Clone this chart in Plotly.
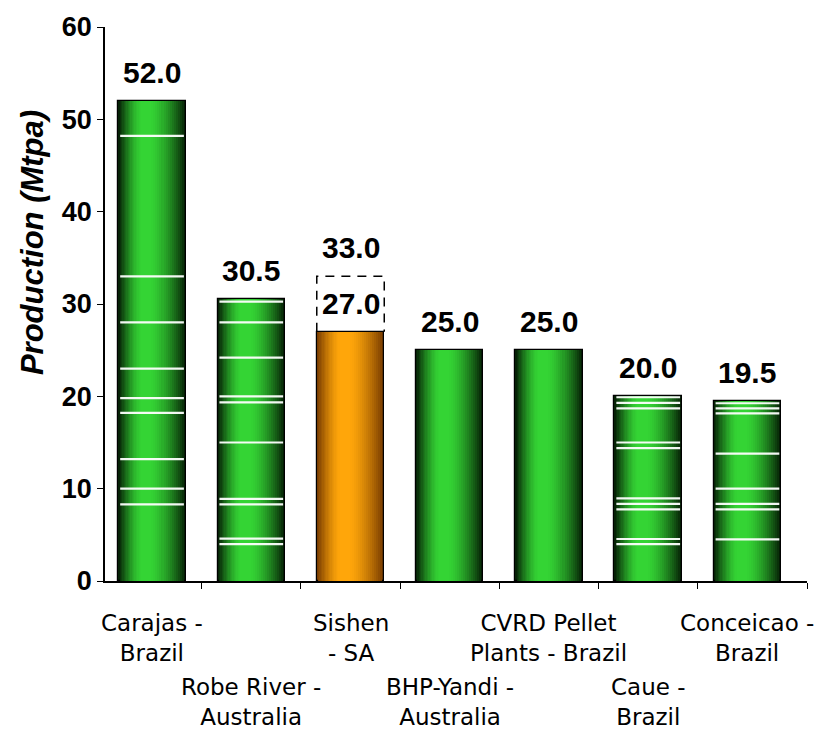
import plotly.graph_objects as go

# ---- data ----
mine_labels = ["Carajas -<br>Brazil", "Robe River -<br>Australia", "Sishen<br>- SA",
               "BHP-Yandi -<br>Australia", "CVRD Pellet<br>Plants - Brazil",
               "Caue -<br>Brazil", "Conceicao -<br>Brazil"]
production = [52.0, 30.5, 27.0, 25.0, 25.0, 20.0, 19.5]
sishen_index = 2
sishen_expansion = 33.0
# cumulative segment boundaries (white stripes) per bar
stripes = [
    [8.3, 10.0, 13.2, 18.2, 19.8, 23.0, 28.0, 33.0, 48.2],
    [4.0, 4.6, 8.3, 8.9, 15.0, 19.35, 20.0, 24.2, 28.0, 30.25],
    [],
    [],
    [],
    [4.0, 4.55, 7.75, 8.35, 8.95, 14.4, 15.0, 18.7, 19.3, 19.9],
    [4.5, 7.75, 8.35, 10.0, 13.8, 18.15, 18.7, 19.25],
]
y_ticks = [0, 10, 20, 30, 40, 50, 60]

# ---- style ----
FONT = "Liberation Sans, Arial, sans-serif"
BAR_W = 0.68
N_LAYERS = 18
green_edge, green_mid = (6, 34, 6), (52, 212, 52)
orange_edge, orange_mid = (120, 60, 0), (255, 166, 10)

def mix(a, b, t):
    return "rgb(%d,%d,%d)" % tuple(round(a[i] + (b[i] - a[i]) * t) for i in range(3))

x = list(range(len(production)))
fig = go.Figure()

for k in range(N_LAYERS):
    f = k / (N_LAYERS - 1)
    t = 1 - (1 - f) ** 1.5
    w = BAR_W * (1 - 0.85 * f)
    off = -BAR_W / 2 + 0.40 * (BAR_W - w)
    colors = [mix(orange_edge, orange_mid, t) if i == sishen_index else mix(green_edge, green_mid, t)
              for i in x]
    fig.add_trace(go.Bar(
        x=x, y=production, width=w, offset=off,
        marker=dict(color=colors,
                    line=dict(color="black", width=1.2 if k == 0 else 0)),
        hoverinfo="skip", showlegend=False))

# white stripes
sx, sy = [], []
for i, levels in enumerate(stripes):
    for lv in levels:
        sx.append(i)
        sy.append(lv)
fig.add_trace(go.Scatter(
    x=sx, y=sy, mode="markers",
    marker=dict(symbol="line-ew", size=45.5,
                line=dict(color="rgba(255,255,255,0.95)", width=2.2)),
    hoverinfo="skip", showlegend=False))

# dashed expansion box for Sishen
xl = sishen_index - BAR_W / 2
xr = sishen_index + BAR_W / 2
p = production[sishen_index]
fig.add_trace(go.Scatter(
    x=[xl, xl, xr, xr], y=[p, sishen_expansion, sishen_expansion, p],
    mode="lines", line=dict(color="black", width=1.5, dash="9px,7px"),
    hoverinfo="skip", showlegend=False))

annotations = []
# value labels
for i, v in enumerate(production):
    annotations.append(dict(x=i, y=v, xref="x", yref="y", text="%.1f" % v,
                            showarrow=False, yanchor="bottom", yshift=10,
                            font=dict(family=FONT, size=30, color="black", weight="bold")))
annotations.append(dict(x=sishen_index, y=sishen_expansion, xref="x", yref="y",
                        text="%.1f" % sishen_expansion, showarrow=False,
                        yanchor="bottom", yshift=10,
                        font=dict(family=FONT, size=30, color="black", weight="bold")))
# staggered category labels
for i, lab in enumerate(mine_labels):
    annotations.append(dict(x=i, y=0, xref="x", yref="paper", text=lab,
                            showarrow=False, yanchor="middle",
                            yshift=-57 if i % 2 == 0 else -121,
                            font=dict(family="DejaVu Sans", size=23, color="black")))
# y-axis title
annotations.append(dict(x=0, y=0.61, xref="paper", yref="paper",
                        text="<b><i>Production (Mtpa)</i></b>", textangle=-90,
                        showarrow=False, xanchor="center", yanchor="middle", xshift=-73,
                        font=dict(family=FONT, size=31, color="black")))

fig.update_layout(
    width=827, height=729,
    margin=dict(l=105, r=20, t=27, b=148),
    paper_bgcolor="white", plot_bgcolor="white",
    barmode="overlay", bargap=0,
    annotations=annotations,
    xaxis=dict(range=[-0.474, 6.60], showgrid=False, zeroline=False,
               showline=True, linecolor="black", linewidth=1.5,
               tickmode="array", tickvals=[0.5, 1.5, 2.5, 3.5, 4.5, 5.5, 6.6],
               ticks="outside", ticklen=6, tickcolor="black", showticklabels=False),
    yaxis=dict(range=[0, 60], showgrid=False, zeroline=False,
               showline=True, linecolor="black", linewidth=1.5,
               tickmode="array", tickvals=y_ticks, ticks="outside", ticklen=6,
               tickcolor="black",
               tickfont=dict(family=FONT, size=27, color="black", weight="bold")),
)

fig.write_html("out.html")
